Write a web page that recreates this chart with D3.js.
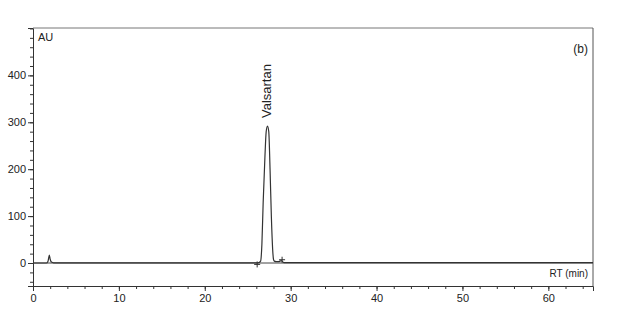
<!DOCTYPE html>
<html>
<head>
<meta charset="utf-8">
<script src="https://cdn.jsdelivr.net/npm/d3@7"></script>
<style>
body{margin:0;background:#fff;}
text{font-family:"Liberation Sans",Arial,sans-serif;fill:#222;}
</style>
</head>
<body>
<script>
//Screen properties
var screenwidth=619, screenheight=328;

//chromatogram trace (retention time in min, response in AU)
var rt=[0,1.55,1.75,1.9,2.0,2.15,2.4,26.0,26.3,26.5,26.65,26.8,27.0,27.15,27.3,27.45,27.6,27.75,27.9,28.0,28.1,28.3,28.6,28.9,29.2,65.2];
var au=[0,0,4,17,8,2,0.5,0.5,1,4,40,130,225,280,292,280,200,100,30,8,4,3,3,5,1,1];
//integration marks
var markRt=[26.1,29.0];
var markAu=[-3,7];
var xTicks=[0,10,20,30,40,50,60];
var yTicks=[0,100,200,300,400];
var peakName="Valsartan", peakRt=27.3, peakAu=292;

var margin={left:33,top:28,right:26,bottom:42};
var w=screenwidth-margin.left-margin.right, h=screenheight-margin.top-margin.bottom;

var svg=d3.select("body").append("svg")
	.attr("width",screenwidth).attr("height",screenheight);
var g=svg.append("g").attr("transform","translate("+margin.left+","+margin.top+")");

var x=d3.scaleLinear().domain([0,65.2]).range([0,w]);
var y=d3.scaleLinear().domain([-49,501]).range([h,0]);

//minor ticks
g.append("g").attr("transform","translate(0,"+h+")")
	.call(d3.axisBottom(x).tickValues(d3.range(0,65,2)).tickSize(3).tickFormat(""))
	.call(function(a){a.select(".domain").remove();a.selectAll("line").attr("stroke","#333");});
g.append("g")
	.call(d3.axisLeft(y).tickValues(d3.range(-40,501,20)).tickSize(3).tickFormat(""))
	.call(function(a){a.select(".domain").remove();a.selectAll("line").attr("stroke","#333");});

//major ticks + labels
var xa=g.append("g").attr("transform","translate(0,"+h+")")
	.call(d3.axisBottom(x).tickValues(xTicks).tickSize(5).tickPadding(3));
xa.select(".domain").attr("stroke","#333");
xa.selectAll("text").attr("font-size",11).attr("font-family","Liberation Sans, Arial");
var ya=g.append("g")
	.call(d3.axisLeft(y).tickValues(yTicks).tickSize(5).tickPadding(2));
ya.select(".domain").attr("stroke","#333");
ya.selectAll("text").attr("font-size",11).attr("font-family","Liberation Sans, Arial");
g.selectAll(".tick line").attr("stroke","#333");

//frame top and right
g.append("line").attr("x1",0).attr("x2",w).attr("y1",0).attr("y2",0).attr("stroke","#777");
g.append("line").attr("x1",w).attr("x2",w).attr("y1",0).attr("y2",h).attr("stroke","#555");

//zero line
g.append("line").attr("x1",0).attr("x2",w).attr("y1",y(0)).attr("y2",y(0))
	.attr("stroke","#444").attr("stroke-width",1);

//trace
var pts=rt.map(function(d,i){return [d,au[i]];});
g.append("path").datum(pts)
	.attr("fill","none").attr("stroke","#333").attr("stroke-width",1.2)
	.attr("d",d3.line().x(function(d){return x(d[0]);}).y(function(d){return y(d[1]);}).curve(d3.curveMonotoneX));

//integration marks
markRt.forEach(function(d,i){
	g.append("path").attr("d","M"+(x(d)-3)+","+y(markAu[i])+"h6M"+x(d)+","+(y(markAu[i])-3)+"v6")
		.attr("stroke","#333").attr("stroke-width",1);
});

//labels
g.append("text").attr("x",5).attr("y",13).attr("font-size",11).text("AU");
g.append("text").attr("x",w-5).attr("y",0).attr("dy",25).attr("text-anchor","end").attr("font-size",12).text("(b)");
g.append("text").attr("x",w-5).attr("y",y(0)+14).attr("text-anchor","end").attr("font-size",10).text("RT (min)");
g.append("text").attr("transform","translate("+(x(peakRt)+4)+","+(y(peakAu)-8)+") rotate(-90)")
	.attr("font-size",13).text(peakName);
</script>
</body>
</html>
